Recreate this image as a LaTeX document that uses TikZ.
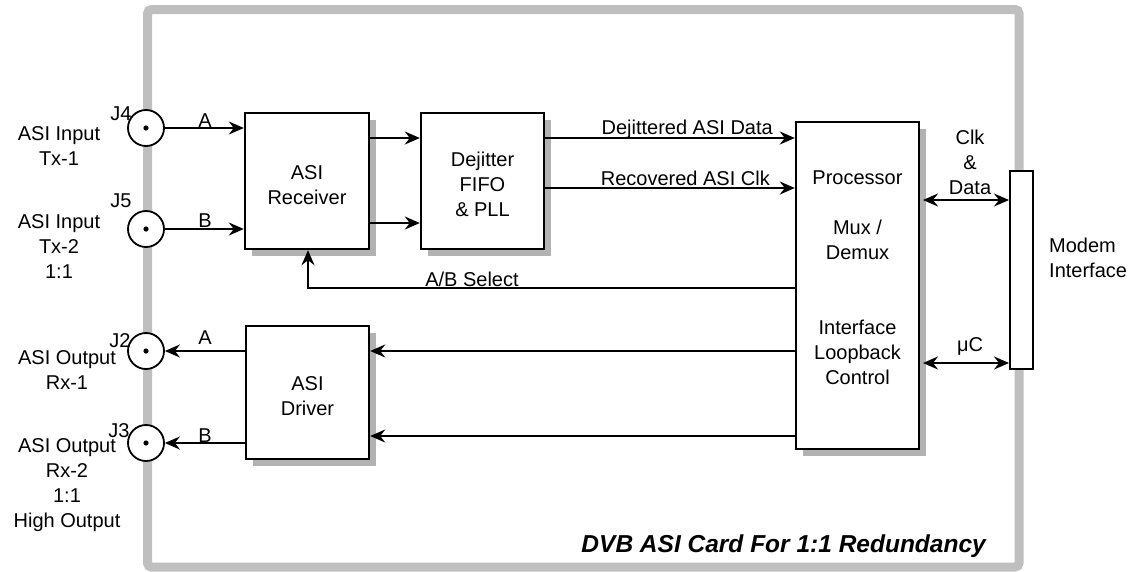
\documentclass[tikz,border=0pt]{standalone}
\usepackage{fontspec}
\setmainfont{Liberation Sans}
\usetikzlibrary{arrows.meta,shadows,calc}

\tikzset{
  txt/.style={font=\fontsize{20}{25}\selectfont, inner sep=0pt, align=center},
  block/.style={draw, line width=2.4pt, fill=white, inner sep=0pt,
    drop shadow={shadow xshift=7pt, shadow yshift=-7pt, fill=black!30, opacity=1}},
  jack/.style={circle, draw, line width=1.8pt, fill=white, minimum size=36pt, inner sep=0pt},
  conn/.style={line width=2pt, -{Stealth[length=15pt, width=13pt, inset=5pt]}},
  biconn/.style={line width=2pt, {Stealth[length=15pt, width=13pt, inset=5pt]}-{Stealth[length=15pt, width=13pt, inset=5pt]}},
  plain/.style={line width=2pt}
}

\begin{document}
\begin{tikzpicture}[x=1pt, y=-1pt]
  \useasboundingbox (0,0) rectangle (1137,571);

  % card outline
  \draw[line width=9pt, draw=black!25, rounded corners=4pt] (147.5,9.5) rectangle (1019,567);

  % functional blocks
  \node[block, minimum width=124pt, minimum height=136pt] (recv) at (307,181) {};
  \node[block, minimum width=123pt, minimum height=136pt] (dej) at (482.5,181) {};
  \node[block, minimum width=123pt, minimum height=327pt] (proc) at (857.5,285.5) {};
  \node[block, minimum width=123pt, minimum height=133pt] (drv) at (307.5,392.5) {};
  \node[draw, line width=2pt, fill=white, minimum width=23pt, minimum height=198pt, inner sep=0pt] (modem) at (1021.5,270) {};

  % block texts
  \node[txt] (recvtxt) at (307,185) {ASI\\Receiver};
  \node[txt] (dejtxt) at (482.5,184) {Dejitter\\FIFO\\\& PLL};
  \node[txt] (proctxt1) at (857.5,178) {Processor};
  \node[txt] (proctxt2) at (857.5,240) {Mux /\\Demux};
  \node[txt] (proctxt3) at (857.5,352) {Interface\\Loopback\\Control};
  \node[txt] (drvtxt) at (307.5,396) {ASI\\Driver};

  % BNC jacks
  \foreach \n/\y in {j4/128, j5/229, j2/351, j3/443}{
    \node[jack] (\n) at (146,\y) {};
    \fill (\n.center) circle (2.6pt);
  }
  \node[txt] (j4l) at (121,114) {J4};
  \node[txt] (j5l) at (121,201) {J5};
  \node[txt] (j2l) at (120,341) {J2};
  \node[txt] (j3l) at (119,431) {J3};

  % jack captions
  \node[txt] (in1) at (59,146) {ASI Input\\Tx-1};
  \node[txt] (in2) at (59,247) {ASI Input\\Tx-2\\1:1};
  \node[txt] (out1) at (67,370) {ASI Output\\Rx-1};
  \node[txt] (out2) at (67,485) {ASI Output\\Rx-2\\1:1\\High Output};

  % inputs
  \draw[conn] (j4) -- (recv.west |- j4);
  \draw[conn] (j5) -- (recv.west |- j5);
  \node[txt] (la) at (205,121) {A};
  \node[txt] (lb) at (205,221) {B};

  % receiver to dejitter
  \draw[conn] ($(recv.east)+(0,-43)$) -- ($(dej.west)+(0,-43)$);
  \draw[conn] ($(recv.east)+(0,42)$) -- ($(dej.west)+(0,42)$);

  % dejitter to processor
  \coordinate (dA) at ($(dej.east)+(0,-43)$);
  \coordinate (dB) at ($(dej.east)+(0,7)$);
  \draw[conn] (dA) -- (proc.west |- dA);
  \draw[conn] (dB) -- (proc.west |- dB);
  \node[txt, anchor=east] (ldA) at (773,129) {Dejittered ASI Data};
  \node[txt, anchor=east] (ldB) at (770,178) {Recovered ASI Clk};

  % A/B select
  \coordinate (sel) at (308,288);
  \draw[conn] (proc.west |- sel) -- (sel) -- (sel |- recv.south);
  \node[txt] (lsel) at (472,279) {A/B Select};

  % processor to driver
  \coordinate (pA) at (796,351);
  \coordinate (pB) at (796,436);
  \draw[conn] (proc.west |- pA) -- (drv.east |- pA);
  \draw[conn] (proc.west |- pB) -- (drv.east |- pB);

  % driver outputs
  \draw[conn] (drv.west |- j2) -- (j2);
  \draw[conn] (drv.west |- j3) -- (j3);
  \node[txt] (loa) at (205,338) {A};
  \node[txt] (lob) at (205,436) {B};

  % processor to modem interface
  \coordinate (mA) at (923,200);
  \coordinate (mB) at (923,363);
  \draw[biconn] (mA) -- (modem.west |- mA);
  \draw[biconn] (mB) -- (modem.west |- mB);
  \node[txt] (lclk) at (970,162) {Clk\\\&\\Data};
  \node[txt] (lmu) at (970,346) {μC};
  \node[txt, align=left, anchor=west] (lmodem) at (1049,258) {Modem\\Interface};

  % card title
  \node[font=\fontsize{24.5}{28}\selectfont\bfseries\itshape, inner sep=0pt, anchor=east] (title) at (986,546) {DVB ASI Card For 1:1 Redundancy};
\end{tikzpicture}
\end{document}
